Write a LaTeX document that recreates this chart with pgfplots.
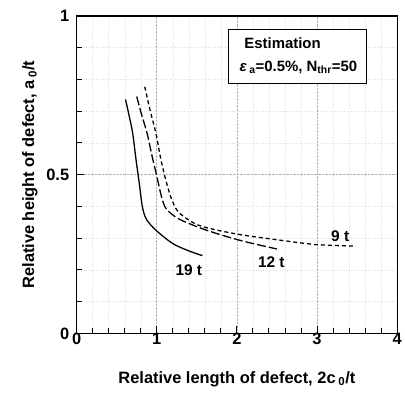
\documentclass[border=0pt]{standalone}
\usepackage{pgfplots}
\pgfplotsset{compat=1.18}
\usepackage{fontspec}
\setmainfont{Liberation Sans}
\begin{document}
\begin{tikzpicture}
\begin{axis}[
  name=ax,
  scale only axis,
  width=322pt, height=319pt,
  xmin=0, xmax=4, ymin=0, ymax=1,
  xtick={0,1,2,3,4}, ytick={0,0.5,1},
  yticklabels={0,0.5,1},
  minor x tick num=4,
  minor ytick={0.1,0.2,0.3,0.4,0.6,0.7,0.8,0.9},
  tick align=inside,
  xtick pos=bottom, ytick pos=left,
  major tick length=7pt, minor tick length=5pt,
  every tick/.style={black, line width=0.9pt},
  axis line style={line width=1.2pt},
  grid=both,
  major grid style={densely dotted, gray!60, line width=0.6pt},
  minor grid style={dotted, gray!25, line width=0.4pt},
  /pgf/number format/assume math mode=true,
  ticklabel style={font=\fontsize{16.5}{18}\selectfont\bfseries},
  xticklabel style={yshift=4pt},
  yticklabel style={xshift=-4pt},
  label style={font=\fontsize{16.5}{20}\selectfont\bfseries},
  xlabel={Relative length of defect, 2c\,\textsubscript{0}/t},
  ylabel={Relative height of defect, a\,\textsubscript{0}/t},
  xlabel style={yshift=-20pt},
  ylabel style={yshift=2pt},
  clip=false,
]
% 19 t
\addplot[black, line width=1.3pt, smooth] coordinates {
(0.61,0.737) (0.66,0.68) (0.70,0.63) (0.74,0.55) (0.78,0.476) (0.82,0.40) (0.87,0.36) (0.99,0.325) (1.2,0.283) (1.4,0.26) (1.57,0.245)};
% 12 t
\addplot[black, line width=1.3pt, dash pattern=on 9pt off 3pt, smooth] coordinates {
(0.75,0.746) (0.81,0.69) (0.88,0.63) (0.94,0.56) (1.0,0.496) (1.06,0.43) (1.12,0.392) (1.28,0.36) (1.6,0.327) (1.94,0.30) (2.2,0.283) (2.5,0.266)};
% 9 t
\addplot[black, line width=1.3pt, dash pattern=on 4pt off 3pt, smooth] coordinates {
(0.85,0.777) (0.92,0.70) (0.99,0.63) (1.05,0.55) (1.12,0.476) (1.19,0.42) (1.28,0.38) (1.53,0.34) (2.0,0.313) (2.5,0.295) (2.98,0.28) (3.47,0.275)};
\node[font=\fontsize{15.5}{18}\selectfont\bfseries] at (axis cs:1.40,0.20) {19 t};
\node[font=\fontsize{15.5}{18}\selectfont\bfseries] at (axis cs:2.43,0.225) {12 t};
\node[font=\fontsize{15.5}{18}\selectfont\bfseries] at (axis cs:3.29,0.307) {9 t};
\draw[line width=1.1pt, fill=white] (axis cs:1.89,0.788) rectangle (axis cs:3.62,0.956);
\node[anchor=west, font=\fontsize{15}{18}\selectfont\bfseries] at (axis cs:2.05,0.915) {Estimation};
\node[anchor=west, font=\fontsize{15}{18}\selectfont\bfseries] at (axis cs:1.99,0.838) {\textit{ε}\,\textsubscript{a}=0.5\%, N\textsubscript{thr}=50};
\end{axis}
\path ([xshift=-77pt,yshift=-59pt]ax.south west) rectangle ([xshift=6pt,yshift=16pt]ax.north east);
\end{tikzpicture}
\end{document}
